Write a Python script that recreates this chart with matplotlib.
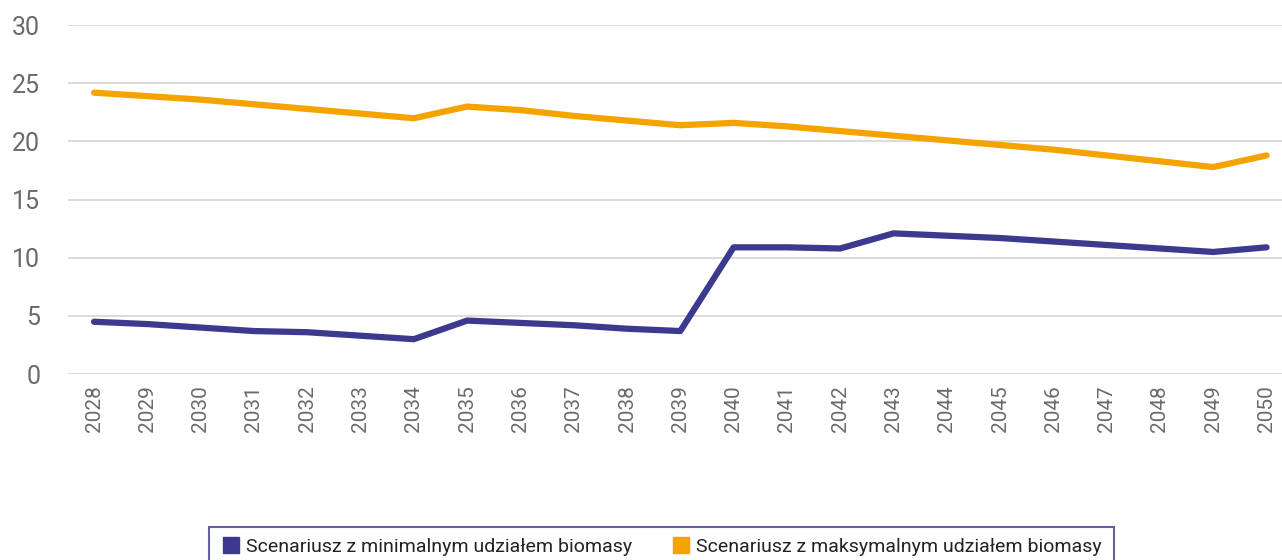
import numpy as np
import matplotlib.pyplot as plt
from matplotlib.lines import Line2D

lata = list(range(2028, 2051))

# wartosci
min_biomasa = [4.5, 4.3, 4.0, 3.7, 3.6, 3.3, 3.0, 4.6, 4.4, 4.2, 3.9, 3.7,
               10.9, 10.9, 10.8, 12.1, 11.9, 11.7, 11.4, 11.1, 10.8, 10.5, 10.9]
max_biomasa = [24.2, 23.9, 23.6, 23.2, 22.8, 22.4, 22.0, 23.0, 22.7, 22.2, 21.8, 21.4,
               21.6, 21.3, 20.9, 20.5, 20.1, 19.7, 19.3, 18.8, 18.3, 17.8, 18.8]

etykiety = ["Scenariusz z minimalnym udziałem biomasy",
            "Scenariusz z maksymalnym udziałem biomasy"]

niebieski = "#3b3a8e"
pomaranczowy = "#f4a300"

plt.rcParams['font.family'] = ['Roboto', 'DejaVu Sans']

fig = plt.figure(figsize=(12.82, 5.6), dpi=100)
ax = fig.add_axes([0.053, 0.332, 0.947, 0.623])

ax.plot(lata, min_biomasa, color=niebieski, lw=4.5, solid_capstyle='round', solid_joinstyle='round')
ax.plot(lata, max_biomasa, color=pomaranczowy, lw=4.5, solid_capstyle='round', solid_joinstyle='round')

ax.set_xlim(2027.51, 2050.29)
ax.set_ylim(0, 30)
ax.set_yticks(range(0, 31, 5))
ax.set_xticks(lata)
ax.set_xticklabels([str(r) for r in lata], rotation=90, fontsize=15)
ax.set_yticklabels([str(v) for v in range(0, 31, 5)], fontsize=18)
ax.yaxis.grid(True, color="#d9d9d9", lw=1.3)
ax.set_axisbelow(True)
for s in ax.spines.values():
    s.set_visible(False)
ax.tick_params(axis='both', length=0, colors="#6b6b6b")
ax.tick_params(axis='y', pad=20)
ax.tick_params(axis='x', pad=8)

uchwyty = [Line2D([], [], marker='s', ls='none', color=niebieski, markersize=12),
           Line2D([], [], marker='s', ls='none', color=pomaranczowy, markersize=12)]
leg = fig.legend(uchwyty, etykiety, loc='upper center', bbox_to_anchor=(0.516, 0.077),
                 ncol=2, frameon=True, fancybox=False, fontsize=14, handletextpad=0.3,
                 columnspacing=2.0, borderpad=0.6, handlelength=1.0)
leg.get_frame().set_edgecolor(niebieski)
leg.get_frame().set_linewidth(1.5)
for t in leg.get_texts():
    t.set_color("#222222")

fig.savefig("out.png", dpi=100)
